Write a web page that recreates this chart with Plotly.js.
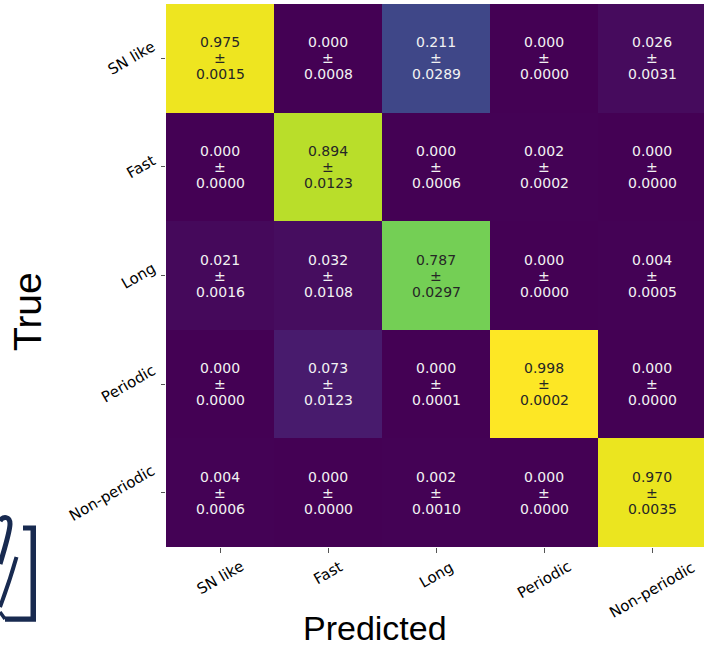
<!DOCTYPE html>
<html>
<head>
<meta charset="utf-8">
<script src="https://cdn.plot.ly/plotly-3.0.1.min.js"></script>
<style>
  html, body { margin: 0; padding: 0; background: #ffffff; }
  #chart { width: 704px; height: 645px; }
</style>
</head>
<body>
<div id="chart"></div>
<script>
// Class names (rows = true class, columns = predicted class)
const classes = ["SN like", "Fast", "Long", "Periodic", "Non-periodic"];

// Mean fraction per cell
const meanSNlike      = [0.975, 0.000, 0.211, 0.000, 0.026];
const meanFast        = [0.000, 0.894, 0.000, 0.002, 0.000];
const meanLong        = [0.021, 0.032, 0.787, 0.000, 0.004];
const meanPeriodic    = [0.000, 0.073, 0.000, 0.998, 0.000];
const meanNonPeriodic = [0.004, 0.000, 0.002, 0.000, 0.970];

// Standard deviation per cell
const stdSNlike      = [0.0015, 0.0008, 0.0289, 0.0000, 0.0031];
const stdFast        = [0.0000, 0.0123, 0.0006, 0.0002, 0.0000];
const stdLong        = [0.0016, 0.0108, 0.0297, 0.0000, 0.0005];
const stdPeriodic    = [0.0000, 0.0123, 0.0001, 0.0002, 0.0000];
const stdNonPeriodic = [0.0006, 0.0000, 0.0010, 0.0000, 0.0035];

const meanRows = [meanSNlike, meanFast, meanLong, meanPeriodic, meanNonPeriodic];
const stdRows  = [stdSNlike, stdFast, stdLong, stdPeriodic, stdNonPeriodic];

const idx = classes.map((_, i) => i);

// Layout geometry (pixels)
const W = 704, H = 645;
const M = { l: 166, r: 0, t: 4, b: 98 };
const cellW = 108;
const plotW = W - M.l - M.r;

const viridis = [
  [0, '#440154'], [0.0627, '#48186a'], [0.1255, '#472d7b'], [0.1882, '#424086'],
  [0.2510, '#3b528b'], [0.3137, '#33638d'], [0.3765, '#2c728e'], [0.4392, '#26828e'],
  [0.5020, '#21918c'], [0.5647, '#1fa088'], [0.6275, '#28ae80'], [0.6902, '#3fbc73'],
  [0.7529, '#5ec962'], [0.8157, '#84d44b'], [0.8784, '#addc30'], [0.9412, '#d8e219'],
  [1, '#fde725']
];

const heat = {
  type: 'heatmap',
  x: idx,
  y: idx,
  z: meanRows,
  colorscale: viridis,
  zmin: 0,
  zmax: 0.998,
  showscale: false,
  hoverinfo: 'skip'
};

const cellFont = 'DejaVu Sans';
const tickFont = 'DejaVu Sans';
const titleFont = 'Liberation Sans, Arial, sans-serif';

const annotations = [];

// Cell labels: mean, "±", std on three lines
meanRows.forEach((row, i) => {
  row.forEach((v, j) => {
    const col = v > 0.5 ? '#262626' : '#f2f2f2';
    const lines = [v.toFixed(3), '±', stdRows[i][j].toFixed(4)];
    const shifts = [16, 0, -16];
    lines.forEach((t, k) => {
      annotations.push({
        x: j, y: i, xref: 'x', yref: 'y',
        text: t, showarrow: false,
        xanchor: 'center', yanchor: 'middle',
        yshift: shifts[k],
        font: { family: cellFont, size: 14, color: col }
      });
    });
  });
});

// Column tick labels, centred under the ticks and tilted
classes.forEach((c, j) => {
  annotations.push({
    x: j, y: 0, xref: 'x', yref: 'paper',
    text: c, showarrow: false, textangle: -30,
    xanchor: 'center', yanchor: 'top', yshift: -8,
    font: { family: tickFont, size: 15, color: '#000' }
  });
});

// Row tick labels, right-aligned next to the ticks and tilted
classes.forEach((c, i) => {
  annotations.push({
    x: 0, y: i, xref: 'paper', yref: 'y',
    text: c, showarrow: false, textangle: -30,
    xanchor: 'right', yanchor: 'middle', xshift: -5,
    font: { family: tickFont, size: 15, color: '#000' }
  });
});

// Axis titles
annotations.push({
  x: 0, y: 0, xref: 'paper', yref: 'paper',
  text: 'Predicted', showarrow: false,
  xanchor: 'center', yanchor: 'middle', borderpad: 0,
  height: 30, valign: 'middle',
  xshift: 209, yshift: -81,
  font: { family: titleFont, size: 34, color: '#000' }
});
annotations.push({
  x: 0, y: 0.5, xref: 'paper', yref: 'paper',
  text: 'True', showarrow: false, textangle: -90,
  xanchor: 'center', yanchor: 'middle',
  xshift: -138.5, yshift: -36,
  font: { family: titleFont, size: 39, color: '#000' }
});

// Partial logo mark in the lower-left corner (pixel offsets from the plot's bottom-left corner)
const ox = M.l, oy = H - M.b;
const p = (x, y) => (x - ox).toFixed(1) + ',' + (oy - y).toFixed(1);
const navy = '#182a50';
const logo = (path, fill, width) => ({
  type: 'path', xref: 'paper', yref: 'paper',
  xsizemode: 'pixel', ysizemode: 'pixel', xanchor: 0, yanchor: 0,
  path: path,
  fillcolor: fill ? navy : 'rgba(0,0,0,0)',
  line: { color: navy, width: width },
  layer: 'above'
});
const shapes = [
  logo('M' + p(23, 525.5) + ' L' + p(36, 525.5) + ' L' + p(36, 621.7) + ' L' + p(5, 621.7) +
       ' L' + p(5, 616.5) + ' L' + p(30.5, 616.5) + ' L' + p(30.5, 530.5) + ' L' + p(23, 530.5) + ' Z', true, 0),
  logo('M' + p(0, 521) + ' C' + p(3, 516) + ' ' + p(10, 516) + ' ' + p(10, 524) +
       ' C' + p(10, 531) + ' ' + p(7, 541) + ' ' + p(0, 564), false, 5),
  logo('M' + p(16.5, 557) + ' C' + p(12, 573) + ' ' + p(6, 591) + ' ' + p(0, 607), false, 4),
  logo('M' + p(0, 612) + ' L' + p(5, 619), false, 3.5)
];

const layout = {
  width: W, height: H,
  margin: M,
  paper_bgcolor: '#ffffff',
  plot_bgcolor: '#ffffff',
  showlegend: false,
  xaxis: {
    range: [-0.5, -0.5 + plotW / cellW],
    tickvals: idx, showticklabels: false,
    ticks: 'outside', ticklen: 5, tickwidth: 1, tickcolor: '#555',
    showgrid: false, zeroline: false, showline: false, fixedrange: true
  },
  yaxis: {
    range: [4.5, -0.5],
    tickvals: idx, showticklabels: false,
    ticks: 'outside', ticklen: 4, tickwidth: 1, tickcolor: '#555',
    showgrid: false, zeroline: false, showline: false, fixedrange: true
  },
  annotations: annotations,
  shapes: shapes
};

Plotly.newPlot('chart', [heat], layout, { staticPlot: true, displayModeBar: false });
</script>
</body>
</html>
